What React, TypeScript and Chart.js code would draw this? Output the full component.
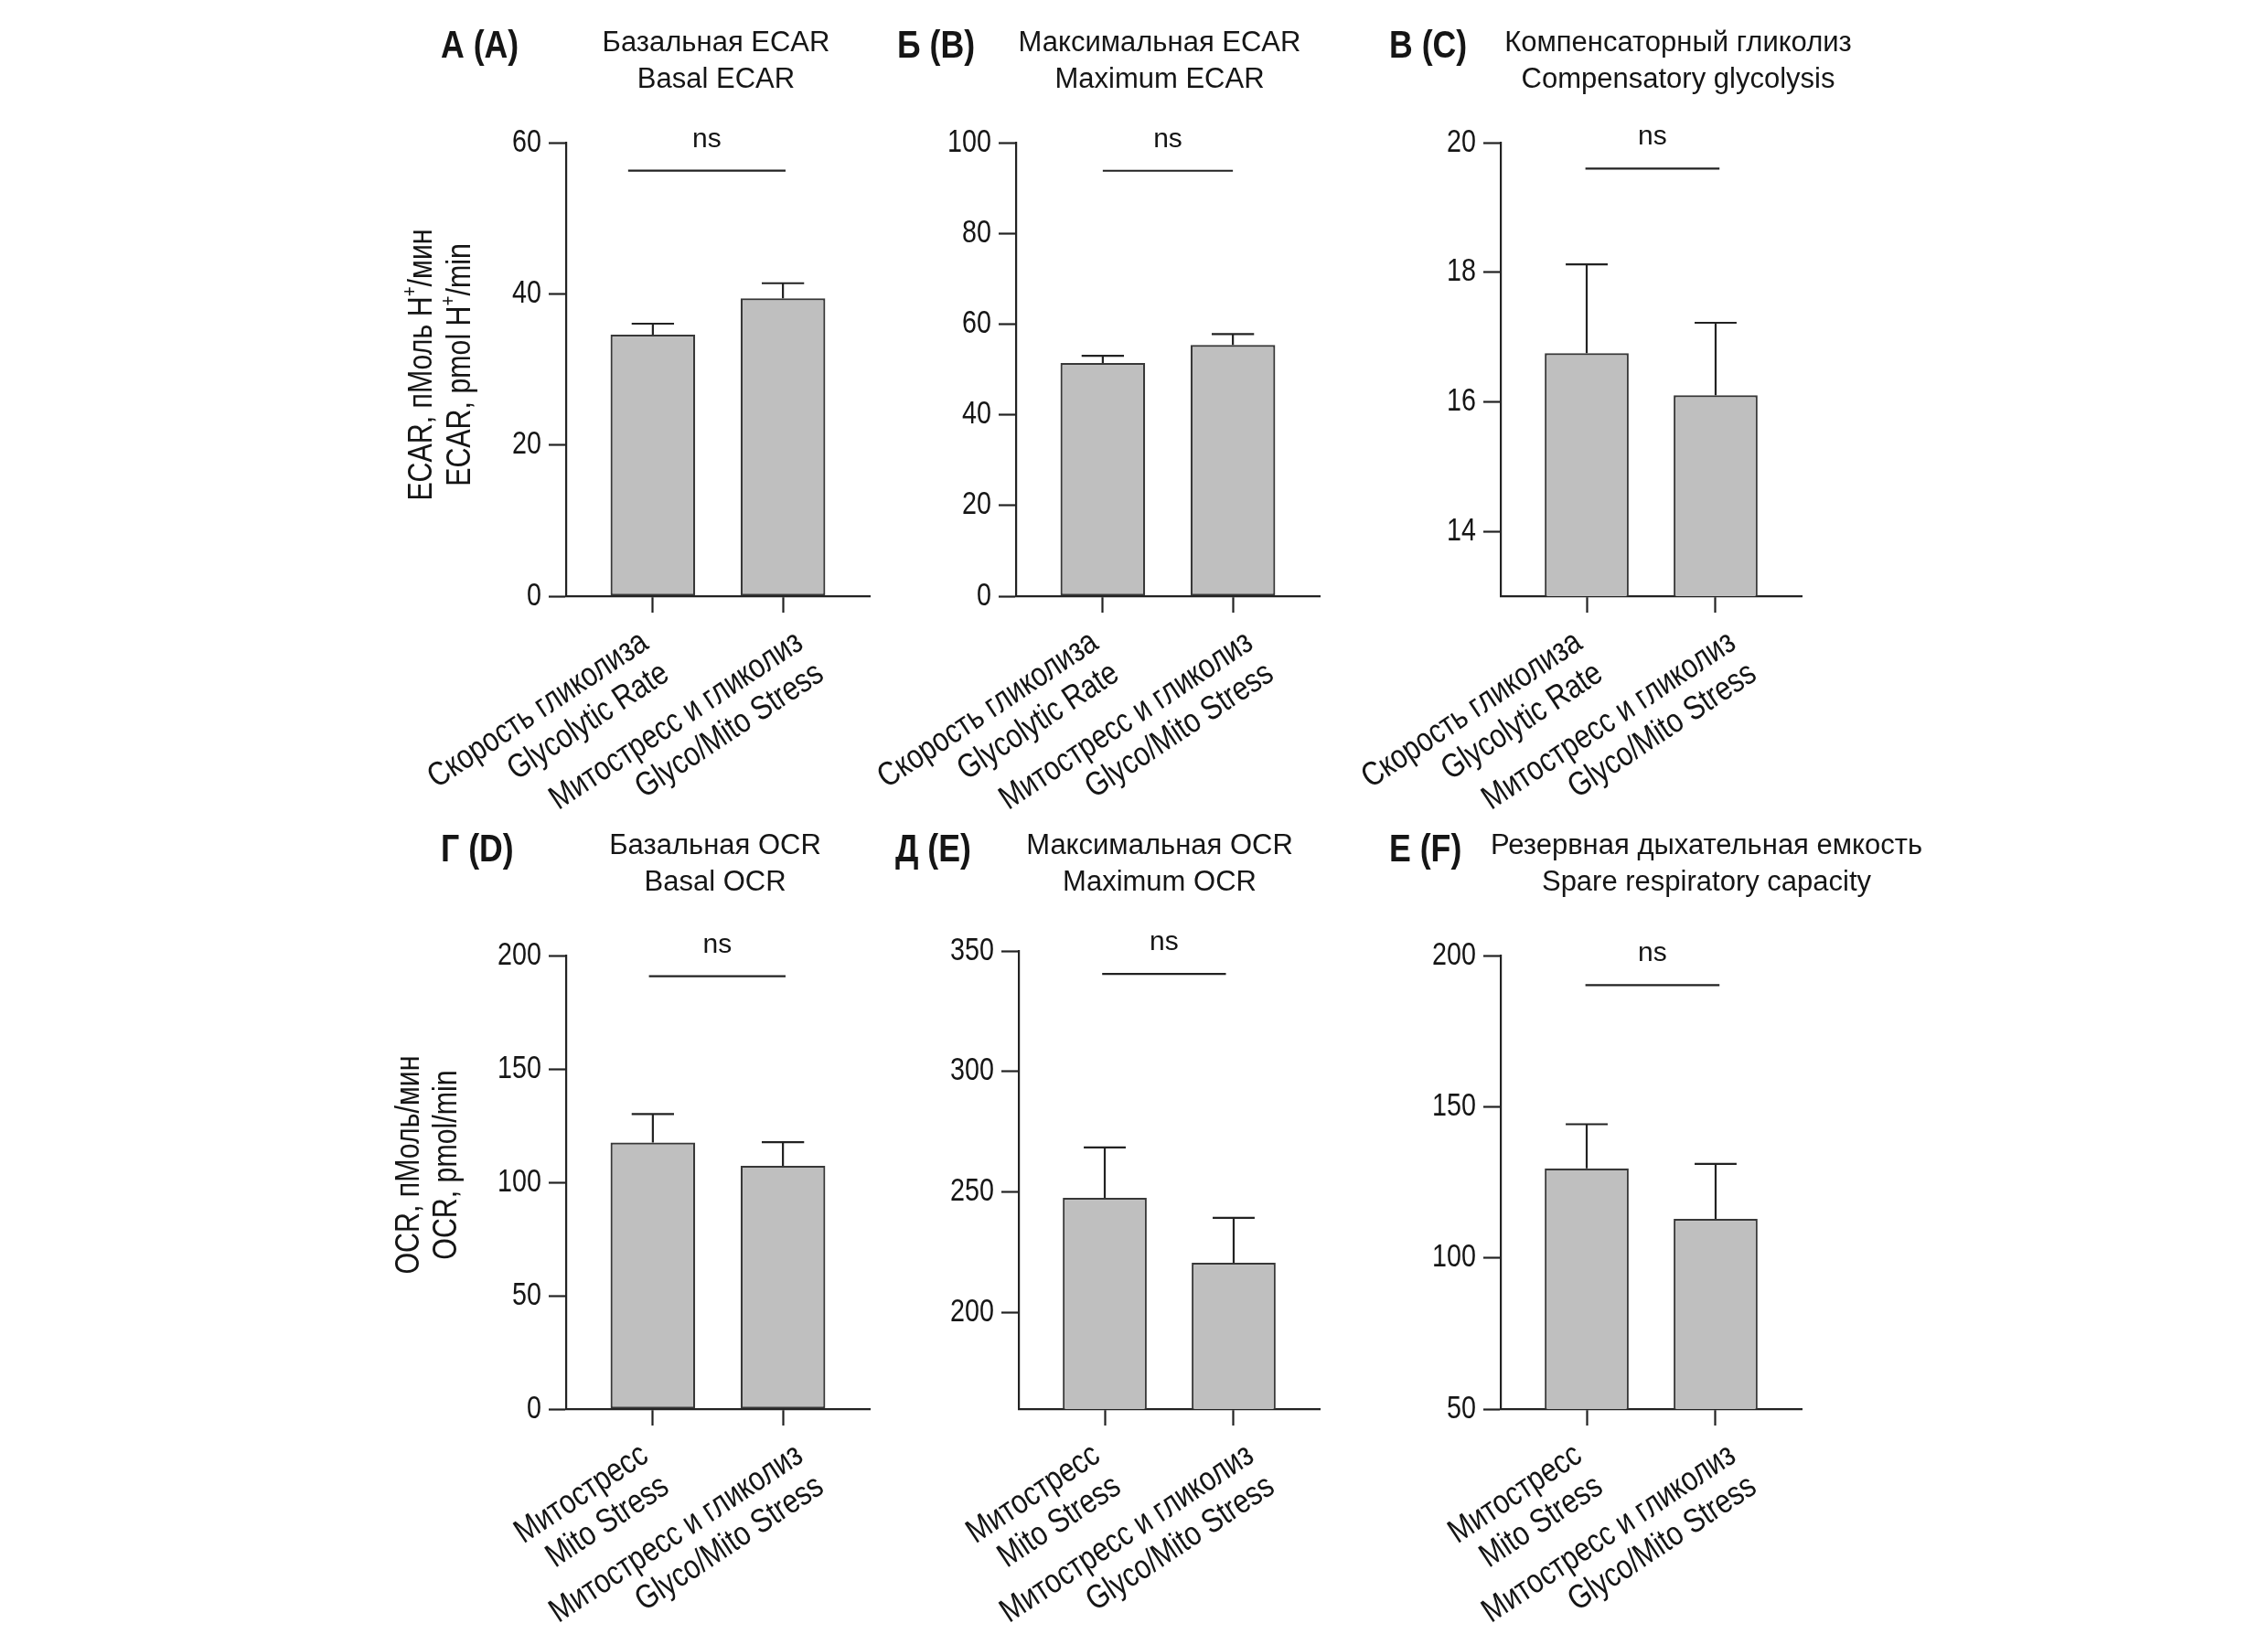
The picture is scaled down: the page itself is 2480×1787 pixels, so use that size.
import { useEffect, useRef } from 'react';
import { Chart, registerables } from 'chart.js';

Chart.register(...registerables);

// ---------------- DATA ----------------
const panelLetters = ['А (A)', 'Б (B)', 'В (C)', 'Г (D)', 'Д (E)', 'Е (F)'];
const panelTitlesRu = [
  'Базальная ECAR',
  'Максимальная ECAR',
  'Компенсаторный гликолиз',
  'Базальная OCR',
  'Максимальная OCR',
  'Резервная дыхательная емкость',
];
const panelTitlesEn = [
  'Basal ECAR',
  'Maximum ECAR',
  'Compensatory glycolysis',
  'Basal OCR',
  'Maximum OCR',
  'Spare respiratory capacity',
];

const ecarCategories = [
  ['Скорость гликолиза', 'Glycolytic Rate'],
  ['Митостресс и гликолиз', 'Glyco/Mito Stress'],
];
const ocrCategories = [
  ['Митостресс', 'Mito Stress'],
  ['Митостресс и гликолиз', 'Glyco/Mito Stress'],
];

const basalEcarMeans = [34.6, 39.4];
const basalEcarSem = [1.45, 2.0];
const maxEcarMeans = [51.4, 55.4];
const maxEcarSem = [1.6, 2.4];
const compGlycoMeans = [16.75, 16.1];
const compGlycoSem = [1.37, 1.12];
const basalOcrMeans = [117.5, 107.3];
const basalOcrSem = [12.6, 10.4];
const maxOcrMeans = [247.6, 220.7];
const maxOcrSem = [20.9, 18.6];
const spareMeans = [129.6, 112.9];
const spareSem = [14.6, 18.2];

const yTicksBasalEcar = [0, 20, 40, 60];
const yTicksMaxEcar = [0, 20, 40, 60, 80, 100];
const yTicksCompGlyco = [14, 16, 18, 20];
const yTicksBasalOcr = [0, 50, 100, 150, 200];
const yTicksMaxOcr = [200, 250, 300, 350];
const yTicksSpare = [50, 100, 150, 200];

const yRanges = [
  [0, 60],
  [0, 100],
  [13, 20],
  [0, 200],
  [160, 350],
  [50, 200],
];

const nsText = 'ns';
const nsLevels = [56.3, 93.8, 19.6, 190.9, 340.5, 190.2];
const nsSpans = [
  [-0.19, 1.02],
  [0, 1],
  [-0.01, 1.03],
  [-0.03, 1.02],
  [-0.02, 0.94],
  [-0.01, 1.03],
];

// rich text segments: [text, isSuperscript]
const ecarYTitle: [string, boolean][][] = [
  [['ECAR, пМоль Н', false], ['+', true], ['/мин', false]],
  [['ECAR, pmol H', false], ['+', true], ['/min', false]],
];
const ocrYTitle: [string, boolean][][] = [
  [['OCR, пМоль/мин', false]],
  [['OCR, pmol/min', false]],
];

// ---------------- LAYOUT / STYLE ----------------
const W = 2480;
const H = 1787;
const SANS = "'Liberation Sans', Arial, Helvetica, sans-serif";
const NARROW_X = 0.82; // horizontal compression emulating a narrow face
const Y_W = 140;
const X_H = 120;
const X_MIN = -0.667;
const X_MAX = 1.667;
const TICK_FONT = 35;
const XLAB_FONT = 37;
const XLAB_ROT = (33.5 * Math.PI) / 180;
const XLAB_LINE = 41;
const XLAB_DROP = 56;
const XLAB_SHIFT = [-3, 24];
const YTITLE_FONT = 37;
const LW = 2.2;

type Layout = {
  left: number; top: number; right: number; bottom: number;
  titleX: number; titleY: [number, number];
  letterX: number; letterY: number;
  yTitleX?: [number, number]; yTitleY?: number;
};

const layouts: Layout[] = [
  { left: 619, top: 156, right: 951, bottom: 652, titleX: 783, titleY: [56, 96], letterX: 482, letterY: 63, yTitleX: [462, 504], yTitleY: 399 },
  { left: 1111, top: 156, right: 1443, bottom: 652, titleX: 1268, titleY: [56, 96], letterX: 981, letterY: 63 },
  { left: 1641, top: 156, right: 1970, bottom: 652, titleX: 1835, titleY: [56, 96], letterX: 1519, letterY: 63 },
  { left: 619, top: 1045, right: 951, bottom: 1541, titleX: 782, titleY: [934, 974], letterX: 482, letterY: 942, yTitleX: [448, 489], yTitleY: 1274 },
  { left: 1114, top: 1040, right: 1443, bottom: 1541, titleX: 1268, titleY: [934, 974], letterX: 979, letterY: 942 },
  { left: 1641, top: 1045, right: 1970, bottom: 1541, titleX: 1866, titleY: [934, 974], letterX: 1519, letterY: 942 },
];

type Panel = {
  letter: string;
  titles: [string, string];
  categories: string[][];
  means: number[];
  sem: number[];
  yTicks: number[];
  yRange: number[];
  nsLevel: number;
  nsSpan: number[];
  yTitle?: [string, boolean][][];
  layout: Layout;
};

const meansList = [basalEcarMeans, maxEcarMeans, compGlycoMeans, basalOcrMeans, maxOcrMeans, spareMeans];
const semList = [basalEcarSem, maxEcarSem, compGlycoSem, basalOcrSem, maxOcrSem, spareSem];
const tickList = [yTicksBasalEcar, yTicksMaxEcar, yTicksCompGlyco, yTicksBasalOcr, yTicksMaxOcr, yTicksSpare];

const panels: Panel[] = layouts.map((layout, i) => ({
  letter: panelLetters[i],
  titles: [panelTitlesRu[i], panelTitlesEn[i]],
  categories: i < 3 ? ecarCategories : ocrCategories,
  means: meansList[i],
  sem: semList[i],
  yTicks: tickList[i],
  yRange: yRanges[i],
  nsLevel: nsLevels[i],
  nsSpan: nsSpans[i],
  yTitle: i === 0 ? ecarYTitle : i === 3 ? ocrYTitle : undefined,
  layout,
}));

const INK = '#151515';
const LINE = '#222222';

type TxtOpts = {
  size: number;
  bold?: boolean;
  sx?: number;
  align?: CanvasTextAlign;
  baseline?: CanvasTextBaseline;
  rot?: number;
};

function txt(ctx: CanvasRenderingContext2D, s: string, x: number, y: number, o: TxtOpts) {
  ctx.save();
  ctx.translate(x, y);
  if (o.rot) ctx.rotate(o.rot);
  ctx.scale(o.sx ?? 1, 1);
  ctx.font = `${o.bold ? 'bold ' : ''}${o.size}px ${SANS}`;
  ctx.textAlign = o.align ?? 'left';
  ctx.textBaseline = o.baseline ?? 'alphabetic';
  ctx.fillStyle = INK;
  ctx.fillText(s, 0, 0);
  ctx.restore();
}

function drawRichVertical(ctx: CanvasRenderingContext2D, segs: [string, boolean][], x: number, y: number, size: number) {
  const sup = size * 0.62;
  ctx.save();
  ctx.translate(x, y);
  ctx.rotate(-Math.PI / 2);
  ctx.scale(NARROW_X, 1);
  ctx.fillStyle = INK;
  ctx.textAlign = 'left';
  ctx.textBaseline = 'middle';
  let total = 0;
  const widths = segs.map(([t, s]) => {
    ctx.font = `${s ? sup : size}px ${SANS}`;
    const w = ctx.measureText(t).width;
    total += w;
    return w;
  });
  let cx = -total / 2;
  segs.forEach(([t, s], k) => {
    ctx.font = `${s ? sup : size}px ${SANS}`;
    ctx.fillText(t, cx, s ? -size * 0.36 : 0);
    cx += widths[k];
  });
  ctx.restore();
}

function makeDecor(p: Panel) {
  return {
    id: 'decor',
    afterDatasetsDraw(chart: any) {
      const { ctx, chartArea } = chart;
      const xs = chart.scales.x;
      const ys = chart.scales.y;
      const meta = chart.getDatasetMeta(0);
      const L = p.layout;
      ctx.save();
      // error bars (upper only)
      ctx.strokeStyle = LINE;
      ctx.lineWidth = LW;
      meta.data.forEach((bar: any, i: number) => {
        const yBar = ys.getPixelForValue(p.means[i]);
        const yTop = ys.getPixelForValue(p.means[i] + p.sem[i]);
        const half = bar.width / 4;
        ctx.beginPath();
        ctx.moveTo(bar.x, yBar);
        ctx.lineTo(bar.x, yTop);
        ctx.moveTo(bar.x - half, yTop);
        ctx.lineTo(bar.x + half, yTop);
        ctx.stroke();
      });
      // significance line + label
      const nsY = ys.getPixelForValue(p.nsLevel);
      const x0 = xs.getPixelForValue(p.nsSpan[0]);
      const x1 = xs.getPixelForValue(p.nsSpan[1]);
      ctx.beginPath();
      ctx.moveTo(x0, nsY);
      ctx.lineTo(x1, nsY);
      ctx.stroke();
      txt(ctx, nsText, (x0 + x1) / 2, nsY - 26, { size: 30, align: 'center' });

      // y tick labels
      p.yTicks.forEach((v) => {
        txt(ctx, String(v), chartArea.left - 19 - 8, ys.getPixelForValue(v), {
          size: TICK_FONT,
          sx: NARROW_X,
          align: 'right',
          baseline: 'middle',
        });
      });

      // x category labels (rotated, right aligned)
      const nx = Math.sin(XLAB_ROT);
      const ny = Math.cos(XLAB_ROT);
      p.categories.forEach((lines, i) => {
        const ex = xs.getPixelForValue(i) + XLAB_SHIFT[i];
        const ey = chartArea.bottom + XLAB_DROP;
        lines.forEach((line, k) => {
          txt(ctx, line, ex + k * XLAB_LINE * nx, ey + k * XLAB_LINE * ny, {
            size: XLAB_FONT,
            sx: NARROW_X,
            align: 'right',
            rot: -XLAB_ROT,
          });
        });
      });

      // titles
      txt(ctx, p.titles[0], L.titleX, L.titleY[0], { size: 31, align: 'center' });
      txt(ctx, p.titles[1], L.titleX, L.titleY[1], { size: 31, align: 'center' });
      // panel letter
      txt(ctx, p.letter, L.letterX, L.letterY, { size: 42, bold: true, sx: 0.85 });
      // y title
      if (p.yTitle && L.yTitleX && L.yTitleY !== undefined) {
        p.yTitle.forEach((segs, k) => {
          drawRichVertical(ctx, segs, L.yTitleX![k], L.yTitleY!, YTITLE_FONT);
        });
      }
      ctx.restore();
    },
  };
}

function makeConfig(p: Panel): any {
  const L = p.layout;
  return {
    type: 'bar',
    data: {
      datasets: [
        {
          data: p.means.map((v, i) => ({ x: i, y: v })),
          backgroundColor: '#bfbfbf',
          borderColor: '#383838',
          borderWidth: 2.2,
          borderSkipped: false,
          categoryPercentage: 0.651,
          barPercentage: 1,
        },
      ],
    },
    options: {
      responsive: false,
      animation: false,
      devicePixelRatio: 1,
      events: [],
      layout: {
        padding: {
          left: L.left - Y_W,
          top: L.top,
          right: W - L.right,
          bottom: H - L.bottom - X_H,
        },
      },
      plugins: {
        legend: { display: false },
        tooltip: { enabled: false },
        title: { display: false },
      },
      scales: {
        x: {
          type: 'linear',
          offset: false,
          min: X_MIN,
          max: X_MAX,
          afterBuildTicks: (s: any) => {
            s.ticks = p.categories.map((_, i) => ({ value: i }));
          },
          afterFit: (s: any) => {
            s.height = X_H;
            s.paddingLeft = 0;
            s.paddingRight = 0;
          },
          ticks: { display: false, autoSkip: false },
          grid: {
            display: true,
            drawOnChartArea: false,
            drawTicks: true,
            tickLength: 18,
            tickWidth: LW,
            tickColor: LINE,
            offset: false,
          },
          border: { display: true, width: LW, color: LINE },
        },
        y: {
          type: 'linear',
          min: p.yRange[0],
          max: p.yRange[1],
          afterBuildTicks: (s: any) => {
            s.ticks = p.yTicks.map((value) => ({ value }));
          },
          afterFit: (s: any) => {
            s.width = Y_W;
          },
          ticks: { display: false },
          grid: {
            display: true,
            drawOnChartArea: false,
            drawTicks: true,
            tickLength: 19,
            tickWidth: LW,
            tickColor: LINE,
          },
          border: { display: true, width: LW, color: LINE },
        },
      },
    },
    plugins: [makeDecor(p)],
  };
}

export default function App() {
  const refs = useRef<(HTMLCanvasElement | null)[]>([]);

  useEffect(() => {
    const charts = panels.map((p, i) => new Chart(refs.current[i] as HTMLCanvasElement, makeConfig(p)));
    return () => {
      charts.forEach((c) => c.destroy());
    };
  }, []);

  return (
    <div style={{ position: 'absolute', left: 0, top: 0, width: W, height: H, background: '#ffffff', overflow: 'hidden' }}>
      {panels.map((_, i) => (
        <canvas
          key={i}
          ref={(el) => {
            refs.current[i] = el;
          }}
          width={W}
          height={H}
          style={{ position: 'absolute', left: 0, top: 0, width: W, height: H }}
        />
      ))}
    </div>
  );
}
